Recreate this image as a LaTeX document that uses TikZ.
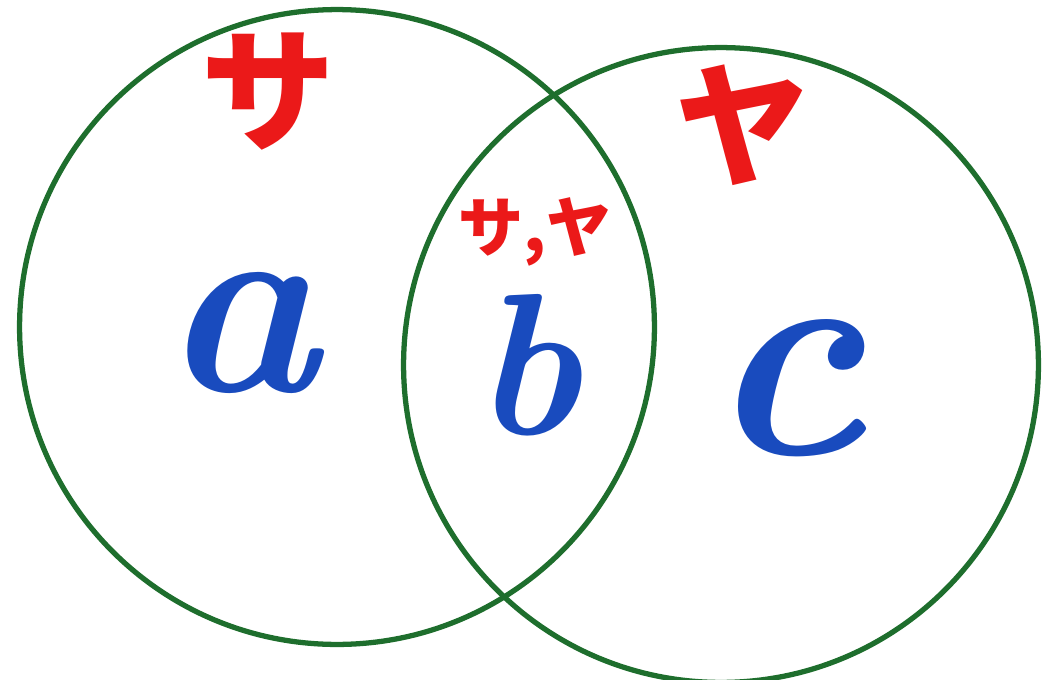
\documentclass[tikz,border=0pt]{standalone}
\usepackage{fontspec}
\newfontfamily\jpfont{Noto Sans CJK JP}
\definecolor{verde}{RGB}{30,110,45}
\definecolor{rojo}{RGB}{235,25,25}
\definecolor{azul}{RGB}{25,75,190}
\begin{document}
\begin{tikzpicture}[x=0.02cm, y=-0.02cm, line width=3pt,
  kana/.style={text=rojo, font=\jpfont\bfseries\fontsize{76}{76}\selectfont, inner sep=0pt},
  kanasmall/.style={kana, font=\jpfont\bfseries\fontsize{37}{37}\selectfont},
  letra/.style={text=azul, inner sep=0pt}]
  \useasboundingbox (0,0) rectangle (1042,680);
  % los dos conjuntos
  \draw[verde] (337,327) circle[radius=6.35cm];
  \draw[verde] (721,365) circle[radius=6.35cm];
  % etiquetas rojas
  \node[kana] (sa) at (268,92) {サ};
  \node[kana] (ya) at (742,125) {ヤ};
  \node[kanasmall] (saya) at (535,232) {サ,ヤ};
  % elementos
  \node[letra, font=\bfseries\itshape\fontsize{150}{150}\selectfont] (a) at (240,333) {a};
  \node[letra, font=\bfseries\itshape\fontsize{115}{115}\selectfont] (b) at (527,365) {b};
  \node[letra, font=\bfseries\itshape\fontsize{170}{170}\selectfont] (c) at (786,388) {c};
\end{tikzpicture}
\end{document}
